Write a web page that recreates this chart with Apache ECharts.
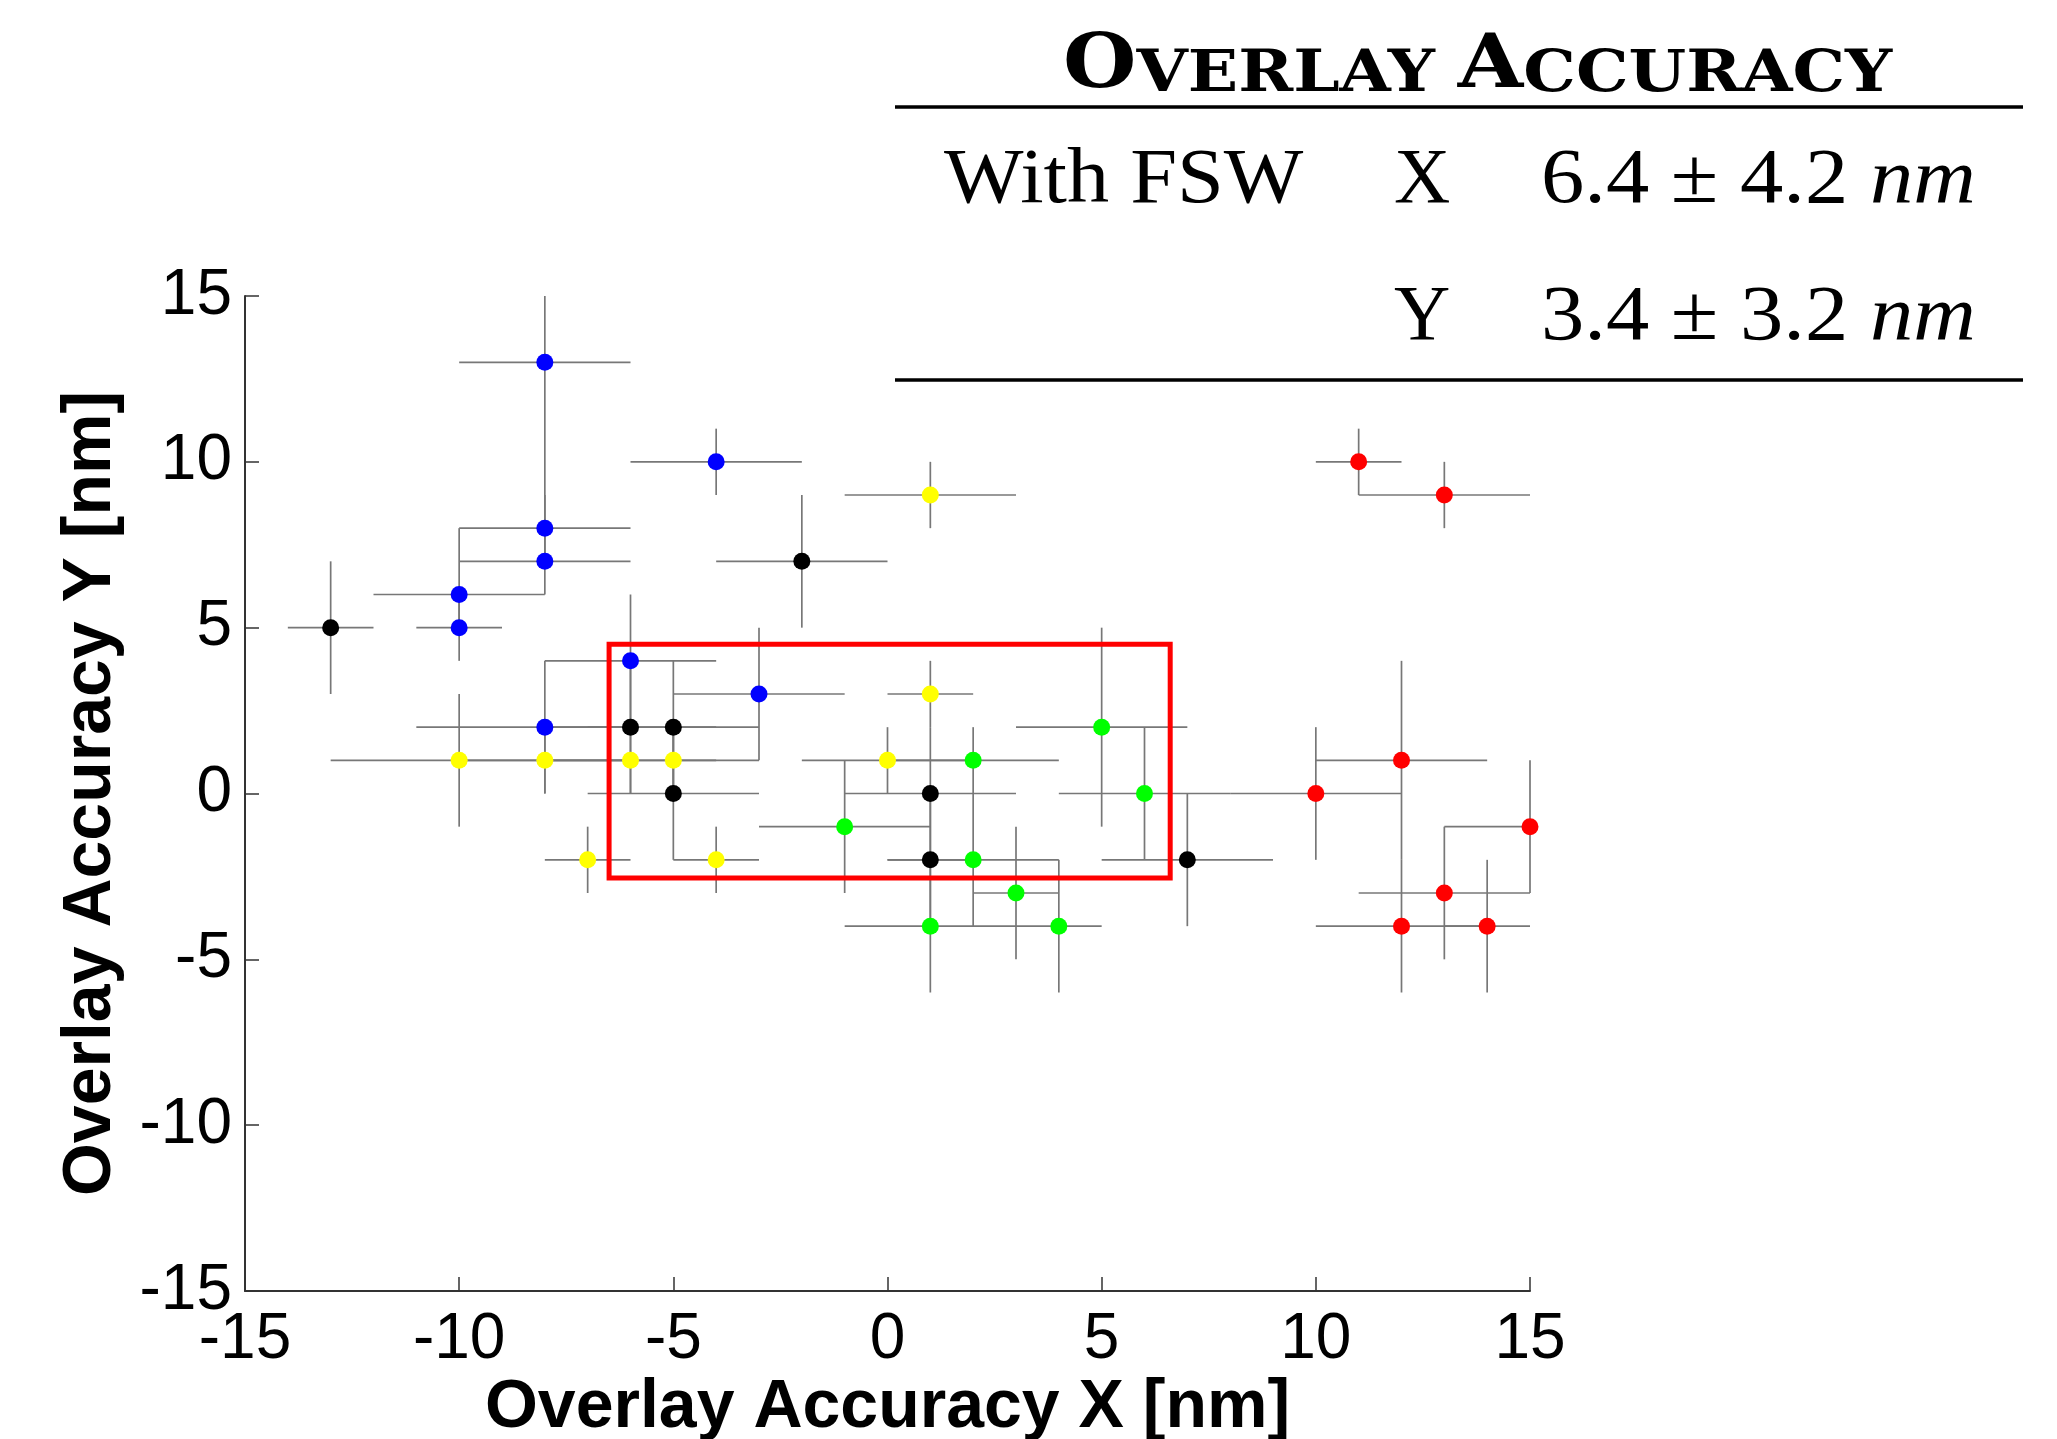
<!DOCTYPE html>
<html>
<head>
<meta charset="utf-8">
<script src="https://cdn.jsdelivr.net/npm/echarts@6/dist/echarts.min.js"></script>
<style>html,body{margin:0;padding:0;background:#fff}#c{width:2057px;height:1439px}</style>
</head>
<body>
<div id="c"></div>
<script>
// Each point: [x, y, xLow, xHigh, yLow, yHigh]  (nm)
const bluePoints = [
  [-8, 13, -10, -6, 8, 15],
  [-4, 10, -6, -2, 9, 11],
  [-8, 8, -10, -6, 7, 9],
  [-8, 7, -10, -6, 6, 8],
  [-10, 6, -12, -8, 5, 8],
  [-10, 5, -11, -9, 4, 6],
  [-6, 4, -8, -4, 2, 6],
  [-3, 3, -5, -1, 1, 5],
  [-8, 2, -11, -6, 0, 4]
];
const blackPoints = [
  [-13, 5, -14, -12, 3, 7],
  [-2, 7, -4, 0, 5, 9],
  [-6, 2, -8, -4, 0, 4],
  [-5, 2, -7, -3, 0, 4],
  [-5, 0, -7, -3, -2, 2],
  [1, 0, -1, 3, -2, 2],
  [1, -2, 0, 2, -4, 0],
  [7, -2, 5, 9, -4, 0]
];
const yellowPoints = [
  [1, 9, -1, 3, 8, 10],
  [1, 3, 0, 2, 2, 4],
  [0, 1, -2, 2, 0, 2],
  [-10, 1, -13, -7, -1, 3],
  [-8, 1, -10, -6, 0, 2],
  [-6, 1, -8, -4, 0, 2],
  [-5, 1, -7, -3, 0, 2],
  [-7, -2, -8, -6, -3, -1],
  [-4, -2, -5, -3, -3, -1]
];
const greenPoints = [
  [-1, -1, -3, 1, -3, 1],
  [2, 1, 0, 4, 0, 2],
  [5, 2, 3, 7, -1, 5],
  [6, 0, 4, 8, -2, 2],
  [2, -2, 0, 4, -4, 0],
  [3, -3, 2, 4, -5, -1],
  [1, -4, -1, 3, -6, -2],
  [4, -4, 3, 5, -6, -2]
];
const redPoints = [
  [11, 10, 10, 12, 9, 11],
  [13, 9, 11, 15, 8, 10],
  [10, 0, 8, 12, -2, 2],
  [12, 1, 10, 14, -2, 4],
  [15, -1, 13, 15, -3, 1],
  [13, -3, 11, 15, -5, -1],
  [12, -4, 10, 14, -6, -2],
  [14, -4, 13, 15, -6, -2]
];
// highlighted window: [xMin, yMin, xMax, yMax]
const windowBox = [[-6.5, -2.55, 6.6, 4.5]];

const xAxisRange = [-15, 15];
const yAxisRange = [-15, 15];
const tickStep = 5;

const tableTitle = '{b|O}{s|VERLAY }{b|A}{s|CCURACY}';
const rowLabel = 'With FSW';
const rowAxes = ['X', 'Y'];
const rowValues = ['6.4 \u00B1 4.2', '3.4 \u00B1 3.2'];
const rowUnit = 'nm';

const allPoints = [].concat(bluePoints, blackPoints, yellowPoints, greenPoints, redPoints);

const chart = echarts.init(document.getElementById('c'), null, {renderer: 'canvas'});

function scatterSeries(data, color) {
  return {
    type: 'scatter',
    data: data.map(d => [d[0], d[1]]),
    symbol: 'circle',
    symbolSize: 17,
    itemStyle: {color: color, opacity: 1},
    z: 5,
    silent: true
  };
}

const axisFont = 'Liberation Sans, Arial, sans-serif';
const valueRich = {
  n: {fontFamily: 'Liberation Serif', fontSize: 78, fill: '#000'},
  i: {fontFamily: 'Liberation Serif', fontStyle: 'italic', fontSize: 78, fill: '#000'}
};

chart.setOption({
  backgroundColor: '#ffffff',
  animation: false,
  grid: {left: 245, right: 527, top: 296, bottom: 148, containLabel: false, outerBoundsMode: 'none'},
  xAxis: {
    type: 'value', min: xAxisRange[0], max: xAxisRange[1], interval: tickStep,
    name: 'Overlay Accuracy X [nm]', nameLocation: 'middle', nameGap: 83, nameMoveOverlap: false,
    nameTextStyle: {fontFamily: axisFont, fontWeight: 'bold', fontSize: 68, color: '#000'},
    axisLine: {show: true, onZero: false, lineStyle: {color: '#333', width: 2}},
    axisTick: {show: true, inside: true, length: 14, lineStyle: {color: '#333', width: 1.5}},
    axisLabel: {fontFamily: axisFont, fontSize: 64, color: '#000', margin: 17},
    splitLine: {show: false}
  },
  yAxis: {
    type: 'value', min: yAxisRange[0], max: yAxisRange[1], interval: tickStep,
    name: 'Overlay Accuracy Y [nm]', nameLocation: 'middle', nameGap: 120,
    nameTextStyle: {fontFamily: axisFont, fontWeight: 'bold', fontSize: 68, color: '#000'},
    axisLine: {show: true, onZero: false, lineStyle: {color: '#333', width: 2}},
    axisTick: {show: true, inside: true, length: 14, lineStyle: {color: '#333', width: 1.5}},
    axisLabel: {fontFamily: axisFont, fontSize: 64, color: '#000', margin: 13},
    splitLine: {show: false}
  },
  series: [
    {
      type: 'custom',
      data: allPoints,
      encode: {x: 0, y: 1},
      z: 1,
      silent: true,
      renderItem: function (params, api) {
        const x = api.value(0), y = api.value(1);
        const h1 = api.coord([api.value(2), y]);
        const h2 = api.coord([api.value(3), y]);
        const v1 = api.coord([x, api.value(4)]);
        const v2 = api.coord([x, api.value(5)]);
        const st = {stroke: '#777777', lineWidth: 1.7};
        return {
          type: 'group',
          children: [
            {type: 'line', shape: {x1: h1[0], y1: h1[1], x2: h2[0], y2: h2[1]}, style: st},
            {type: 'line', shape: {x1: v1[0], y1: v1[1], x2: v2[0], y2: v2[1]}, style: st}
          ]
        };
      }
    },
    {
      type: 'custom',
      data: windowBox,
      encode: {x: [0, 2], y: [1, 3]},
      z: 3,
      silent: true,
      renderItem: function (params, api) {
        const p1 = api.coord([api.value(0), api.value(3)]);
        const p2 = api.coord([api.value(2), api.value(1)]);
        return {
          type: 'rect',
          shape: {x: p1[0], y: p1[1], width: p2[0] - p1[0], height: p2[1] - p1[1]},
          style: {fill: 'none', stroke: '#ff0000', lineWidth: 5}
        };
      }
    },
    scatterSeries(bluePoints, '#0000ff'),
    scatterSeries(blackPoints, '#000000'),
    scatterSeries(yellowPoints, '#ffff00'),
    scatterSeries(greenPoints, '#00ff00'),
    scatterSeries(redPoints, '#ff0000')
  ],
  graphic: [
    {
      type: 'text', x: 1063, y: 31, scaleX: 1.14,
      style: {
        text: tableTitle, align: 'left', verticalAlign: 'top',
        rich: {
          b: {fontFamily: 'DejaVu Serif', fontWeight: 'bold', fontSize: 74, lineHeight: 74, verticalAlign: 'bottom', fill: '#000'},
          s: {fontFamily: 'DejaVu Serif', fontWeight: 'bold', fontSize: 58, lineHeight: 74, verticalAlign: 'bottom', fill: '#000'}
        }
      }
    },
    {type: 'line', shape: {x1: 895, y1: 107, x2: 2023, y2: 107}, style: {stroke: '#000', lineWidth: 3.3}},
    {type: 'line', shape: {x1: 895, y1: 380, x2: 2023, y2: 380}, style: {stroke: '#000', lineWidth: 3.3}},
    {
      type: 'text', x: 944, y: 182, scaleX: 1.08,
      style: {text: rowLabel, fontFamily: 'Liberation Serif', fontSize: 78, fill: '#000', verticalAlign: 'middle', align: 'left'}
    },
    {
      type: 'text', x: 1394, y: 182,
      style: {text: rowAxes[0], fontFamily: 'Liberation Serif', fontSize: 78, fill: '#000', verticalAlign: 'middle', align: 'left'}
    },
    {
      type: 'text', x: 1394, y: 319,
      style: {text: rowAxes[1], fontFamily: 'Liberation Serif', fontSize: 78, fill: '#000', verticalAlign: 'middle', align: 'left'}
    },
    {
      type: 'text', x: 1541, y: 182, scaleX: 1.11,
      style: {text: '{n|' + rowValues[0] + ' }{i|' + rowUnit + '}', verticalAlign: 'middle', align: 'left', rich: valueRich}
    },
    {
      type: 'text', x: 1541, y: 319, scaleX: 1.11,
      style: {text: '{n|' + rowValues[1] + ' }{i|' + rowUnit + '}', verticalAlign: 'middle', align: 'left', rich: valueRich}
    }
  ]
});
</script>
</body>
</html>
